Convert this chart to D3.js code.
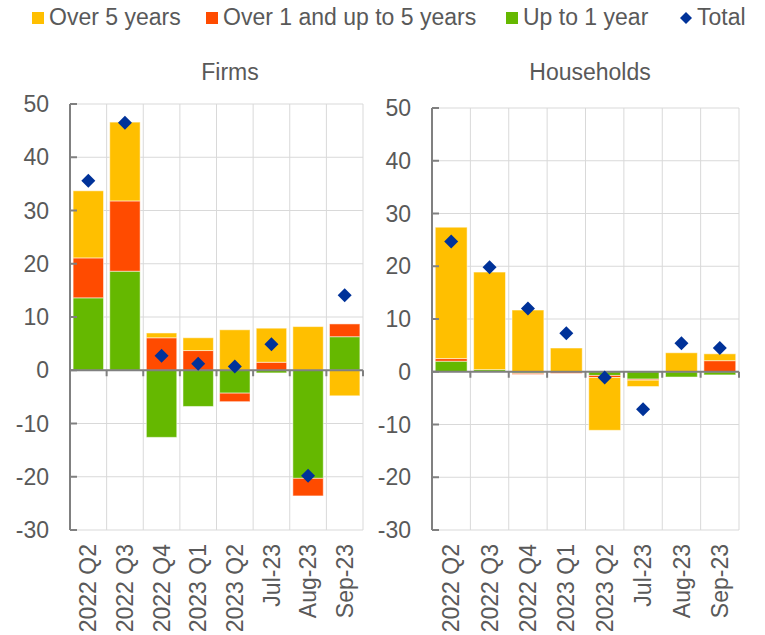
<!DOCTYPE html>
<html>
<head>
<meta charset="utf-8">
<script src="https://cdn.jsdelivr.net/npm/d3@7"></script>
<style>
  body { margin: 0; background: #fff; }
  svg { display: block; font-family: "Liberation Sans", Arial, sans-serif; }
</style>
</head>
<body>
<div class="chart"></div>
<script>
var categories = ['2022 Q2', '2022 Q3', '2022 Q4', '2023 Q1', '2023 Q2', 'Jul-23', 'Aug-23', 'Sep-23'];
var yTicks = [-30, -20, -10, 0, 10, 20, 30, 40, 50];

var seriesNames = ['Over 5 years', 'Over 1 and up to 5 years', 'Up to 1 year', 'Total'];

// firms
var firmsOver5 = [12.6, 14.8, 0.9, 2.4, 7.6, 6.4, 8.2, -4.8];
var firmsOver1To5 = [7.5, 13.2, 6.1, 3.7, -1.6, 1.5, -3.3, 2.4];
var firmsUpTo1 = [13.6, 18.6, -12.6, -6.8, -4.3, -0.5, -20.3, 6.3];
var firmsTotal = [35.6, 46.5, 2.7, 1.2, 0.7, 4.9, -19.8, 14.1];

// households
var hhOver5 = [24.9, 18.5, 11.7, 4.5, -10.0, -1.2, 3.6, 1.3];
var hhOver1To5 = [0.5, 0, -0.2, -0.3, -0.4, -0.2, 0, 2.1];
var hhUpTo1 = [2.0, 0.4, -0.3, 0, -0.7, -1.4, -1.0, -0.6];
var hhTotal = [24.7, 19.8, 12.0, 7.3, -1.1, -7.1, 5.4, 4.5];

var colors = {
  over5: '#FFBF00',
  over1To5: '#FF4B00',
  upTo1: '#65B800',
  total: '#003299'
};
var textColor = '#595959';
var fontSize = 23;

var width = 765,
    height = 635;

var svg = d3.select('.chart').append('svg')
  .attr('width', width)
  .attr('height', height);

function buildRows(over5, over1To5, upTo1, total) {
  return categories.map(function(c, i) {
    return { cat: c, over5: over5[i], over1To5: over1To5[i], upTo1: upTo1[i], total: total[i] };
  });
}

var panels = [
  { title: 'Firms', titleX: 230, left: 70, right: 363, top: 104, bottom: 530,
    rows: buildRows(firmsOver5, firmsOver1To5, firmsUpTo1, firmsTotal) },
  { title: 'Households', titleX: 590, left: 432, right: 739, top: 108, bottom: 530,
    rows: buildRows(hhOver5, hhOver1To5, hhUpTo1, hhTotal) }
];

var stack = d3.stack()
  .keys(['upTo1', 'over1To5', 'over5'])
  .offset(d3.stackOffsetDiverging);

var diamond = 'M0,-7L7,0L0,7L-7,0Z';

function drawPanel(p) {
  var g = svg.append('g');

  var x = d3.scaleBand()
    .domain(categories)
    .range([p.left, p.right])
    .paddingInner(0.17)
    .paddingOuter(0.085);
  var step = x.step();
  var xEdges = d3.range(categories.length + 1).map(function(i) { return p.left + i * (p.right - p.left) / categories.length; });

  var y = d3.scaleLinear()
    .domain([-30, 50])
    .range([p.bottom, p.top]);

  // gridlines
  g.append('g').selectAll('line.h')
    .data(yTicks)
    .enter().append('line')
    .attr('x1', p.left).attr('x2', p.right)
    .attr('y1', function(d) { return y(d); })
    .attr('y2', function(d) { return y(d); })
    .attr('stroke', '#d9d9d9')
    .attr('stroke-width', 1);
  g.append('g').selectAll('line.v')
    .data(xEdges.slice(1))
    .enter().append('line')
    .attr('x1', function(d) { return d; }).attr('x2', function(d) { return d; })
    .attr('y1', p.top).attr('y2', p.bottom)
    .attr('stroke', '#d9d9d9')
    .attr('stroke-width', 1);

  // bars
  var layers = stack(p.rows);
  g.append('g').selectAll('g')
    .data(layers)
    .enter().append('g')
    .attr('fill', function(d) { return colors[d.key]; })
    .selectAll('rect')
    .data(function(d) { return d; })
    .enter().append('rect')
    .attr('x', function(d) { return x(d.data.cat); })
    .attr('width', x.bandwidth())
    .attr('y', function(d) { return y(Math.max(d[0], d[1])); })
    .attr('height', function(d) { return Math.abs(y(d[0]) - y(d[1])); })
    .attr('stroke', '#fff')
    .attr('stroke-opacity', 0.5)
    .attr('stroke-width', 1);

  // y axis
  g.append('line')
    .attr('x1', p.left).attr('x2', p.left)
    .attr('y1', p.top).attr('y2', p.bottom)
    .attr('stroke', '#808080').attr('stroke-width', 2);
  g.append('g').selectAll('line')
    .data(yTicks)
    .enter().append('line')
    .attr('x1', p.left).attr('x2', p.left + 7)
    .attr('y1', function(d) { return y(d); })
    .attr('y2', function(d) { return y(d); })
    .attr('stroke', '#808080').attr('stroke-width', 2);
  g.append('g').selectAll('text')
    .data(yTicks)
    .enter().append('text')
    .attr('x', p.left - 21)
    .attr('y', function(d) { return y(d); })
    .attr('dy', '0.35em')
    .attr('text-anchor', 'end')
    .attr('fill', textColor)
    .style('font-size', fontSize + 'px')
    .text(function(d) { return d; });

  // zero line
  g.append('line')
    .attr('x1', p.left).attr('x2', p.right)
    .attr('y1', y(0)).attr('y2', y(0))
    .attr('stroke', '#808080').attr('stroke-width', 2);
  g.append('g').selectAll('line')
    .data(xEdges)
    .enter().append('line')
    .attr('x1', function(d) { return d; }).attr('x2', function(d) { return d; })
    .attr('y1', y(0)).attr('y2', y(0) + 6)
    .attr('stroke', '#808080').attr('stroke-width', 2);

  // totals
  g.append('g').selectAll('path')
    .data(p.rows)
    .enter().append('path')
    .attr('d', diamond)
    .attr('transform', function(d) { return 'translate(' + (x(d.cat) + x.bandwidth() / 2) + ',' + y(d.total) + ')'; })
    .attr('fill', colors.total);

  // category labels
  g.append('g').selectAll('text')
    .data(categories)
    .enter().append('text')
    .attr('transform', function(d) { return 'translate(' + (x(d) + x.bandwidth() / 2) + ',' + (p.bottom + 14) + ') rotate(-90)'; })
    .attr('dy', '0.35em')
    .attr('text-anchor', 'end')
    .attr('fill', textColor)
    .style('font-size', fontSize + 'px')
    .text(function(d) { return d; });

  // title
  g.append('text')
    .attr('x', p.titleX)
    .attr('y', 80)
    .attr('text-anchor', 'middle')
    .attr('fill', textColor)
    .style('font-size', fontSize + 'px')
    .text(p.title);
}

panels.forEach(drawPanel);

// legend
var legendItems = [
  { name: seriesNames[0], color: colors.over5, x: 32, type: 'square' },
  { name: seriesNames[1], color: colors.over1To5, x: 206, type: 'square' },
  { name: seriesNames[2], color: colors.upTo1, x: 506, type: 'square' },
  { name: seriesNames[3], color: colors.total, x: 680, type: 'diamond' }
];
var legend = svg.append('g').attr('class', 'legend');
legendItems.forEach(function(item) {
  if (item.type === 'square') {
    legend.append('rect')
      .attr('x', item.x).attr('y', 12)
      .attr('width', 12).attr('height', 12)
      .attr('fill', item.color);
  } else {
    legend.append('path')
      .attr('d', 'M0,-6L6,0L0,6L-6,0Z')
      .attr('transform', 'translate(' + (item.x + 6) + ',18)')
      .attr('fill', item.color);
  }
  legend.append('text')
    .attr('x', item.x + 17)
    .attr('y', 25)
    .attr('fill', textColor)
    .style('font-size', fontSize + 'px')
    .text(item.name);
});
</script>
</body>
</html>
